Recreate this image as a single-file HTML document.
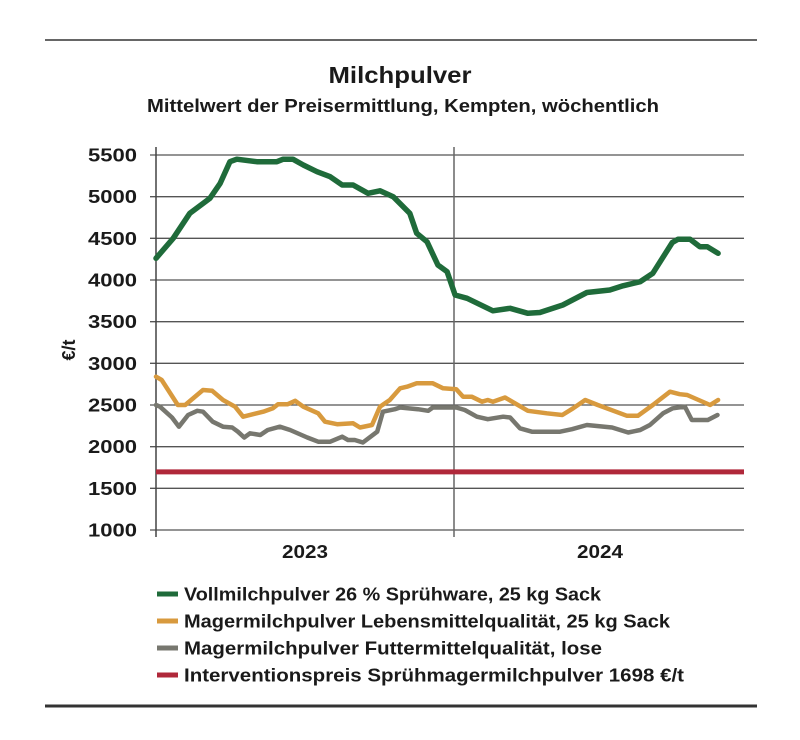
<!DOCTYPE html>
<html><head><meta charset="utf-8"><style>
html,body{margin:0;padding:0;background:#fff;}
svg{display:block;font-family:"Liberation Sans",sans-serif;font-weight:bold;}
</style></head><body>
<svg id="chart" width="800" height="740" viewBox="0 0 800 740">
<line x1="45" y1="40" x2="757" y2="40" stroke="#333" stroke-width="1.5"/>
<line x1="45" y1="706" x2="757" y2="706" stroke="#333" stroke-width="3"/>
<text x="400" y="83" text-anchor="middle" font-size="23" fill="#1a1a1a" textLength="143" lengthAdjust="spacingAndGlyphs">Milchpulver</text>
<text x="403" y="112" text-anchor="middle" font-size="18" fill="#1a1a1a" textLength="512" lengthAdjust="spacingAndGlyphs">Mittelwert der Preisermittlung, Kempten, wöchentlich</text>
<text transform="translate(75,350) rotate(-90)" text-anchor="middle" font-size="18" fill="#1a1a1a">€/t</text>
<g id="grid"></g><g id="series"></g><g id="legend"></g>
</svg>
<script>
const yTicks = [1000,1500,2000,2500,3000,3500,4000,4500,5000,5500];
const yearLabels = ["2023","2024"];
const interventionPrice = 1698;
const greenWeeks = [0,3,5.9,9.4,11.2,12.9,14.1,17.6,21.1,22.2,23.9,25.7,28.1,30.4,32.5,34.4,37,39.1,41.4,44.3,45.5,47.3,49.2,50.8,52.2,54.3,58.8,61.8,64.9,67,71,75.2,79.2,81.5,84.5,86.7,90.1,91.1,93.2,94.9,96.2,98.1];
const greenValues = [4260,4500,4800,4980,5160,5420,5450,5420,5420,5450,5450,5380,5300,5240,5140,5140,5040,5070,5000,4800,4560,4460,4180,4100,3820,3780,3630,3660,3600,3610,3700,3850,3880,3930,3980,4080,4450,4490,4490,4400,4400,4320];
const orangeWeeks = [0,1,3.8,5.1,8.2,9.8,11.7,13.8,15.2,18.7,20.4,21.3,23,24.3,25.7,28.3,29.5,31.6,34.4,35.6,37.7,39.1,40.8,42.6,43.8,45.5,48.3,50.1,52.4,53.6,55.1,56.9,57.9,58.8,60.9,64.9,68.2,70.9,72.8,74.9,77.1,82.2,84.1,86.7,89.7,91.4,92.7,96.7,98.1];
const orangeValues = [2840,2800,2500,2500,2680,2670,2560,2480,2360,2420,2460,2510,2510,2550,2480,2400,2300,2270,2280,2230,2260,2480,2560,2700,2720,2760,2760,2700,2690,2600,2600,2540,2560,2540,2590,2430,2400,2380,2460,2560,2500,2370,2370,2500,2660,2630,2620,2500,2560];
const greyWeeks = [0,0.7,2.8,4,5.6,7.2,8.2,9.9,11.7,13.3,14.3,15.4,16.4,18.2,19.5,21.6,23.4,26.4,28.3,30.4,32.5,33.5,34.7,36.1,38.6,39.6,41.7,42.6,45.7,47.5,48.3,52.4,53.9,56,57.9,60.6,61.8,63.5,65.6,70.5,72.6,75.2,79.6,82.4,84.5,86.2,88.5,90.2,92.3,93.5,96.3,98];
const greyValues = [2500,2480,2350,2240,2380,2430,2420,2300,2240,2230,2180,2110,2160,2140,2200,2240,2200,2110,2060,2060,2120,2080,2080,2050,2180,2420,2450,2470,2450,2430,2470,2470,2440,2360,2330,2360,2350,2220,2180,2180,2210,2260,2230,2170,2200,2260,2400,2460,2480,2320,2320,2380];
const legendLabels = ["Vollmilchpulver 26 % Sprühware, 25 kg Sack","Magermilchpulver Lebensmittelqualität, 25 kg Sack","Magermilchpulver Futtermittelqualität, lose","Interventionspreis Sprühmagermilchpulver 1698 €/t"];

const NS="http://www.w3.org/2000/svg";
const X0=156, X1=744, WPX=5.73;
const x = w => X0 + w*WPX;
const y = v => 155 + (5500 - v)/12;
function mk(tag, attrs, parent){const e=document.createElementNS(NS,tag);for(const k in attrs)e.setAttribute(k,attrs[k]);parent.appendChild(e);return e;}
const grid=document.getElementById('grid'), ser=document.getElementById('series'), leg=document.getElementById('legend');
yTicks.forEach(v=>{
  const l=mk('line',{x1:150,x2:X1,y1:y(v),y2:y(v),stroke:'#555','stroke-width':1.3},grid);
  
  
  const t=mk('text',{x:137,y:y(v)+6.5,'text-anchor':'end','font-size':18.5,fill:'#1a1a1a',textLength:49,lengthAdjust:'spacingAndGlyphs'},grid);
  t.textContent=v;
  
  
});
const ax=mk('line',{x1:X0,x2:X0,y1:147,y2:537,stroke:'#444','stroke-width':1.5},grid);


const dv=mk('line',{x1:454,x2:454,y1:147,y2:537,stroke:'#666','stroke-width':1.5},grid);


yearLabels.forEach((lab,i)=>{
  const t=mk('text',{x:[305,600][i],y:558,'text-anchor':'middle','font-size':18.5,fill:'#1a1a1a',textLength:46,lengthAdjust:'spacingAndGlyphs'},grid);
  t.textContent=lab;
  
  
});
const red=mk('line',{x1:X0,x2:X1,y1:y(interventionPrice),y2:y(interventionPrice),stroke:'#b0283a','stroke-width':5},ser);


function line(ws,vs,col,w,name){
  const p=mk('polyline',{points:ws.map((wk,i)=>x(wk).toFixed(1)+','+y(vs[i]).toFixed(1)).join(' '),fill:'none',stroke:col,'stroke-width':w,'stroke-linejoin':'round','stroke-linecap':'round'},ser);
  
  
}
line(greyWeeks,greyValues,'#77776f',4.5,'series-futtermittel');
line(orangeWeeks,orangeValues,'#d89a3e',4.5,'series-lebensmittel');
line(greenWeeks,greenValues,'#1f6b3a',5.5,'series-vollmilch');
const cols=['#1f6b3a','#d89a3e','#77776f','#b0283a'];
const widths=[417,486,418,500];
legendLabels.forEach((lab,i)=>{
  const yy=594+i*27;
  const s=mk('rect',{x:157,y:yy-2.5,width:21,height:5,fill:cols[i]},leg);
  
  
  const t=mk('text',{x:184,y:yy+6.5,'font-size':18.5,fill:'#1a1a1a',textLength:widths[i],lengthAdjust:'spacingAndGlyphs'},leg);
  t.textContent=lab;
  
  
});
</script>
</body></html>
